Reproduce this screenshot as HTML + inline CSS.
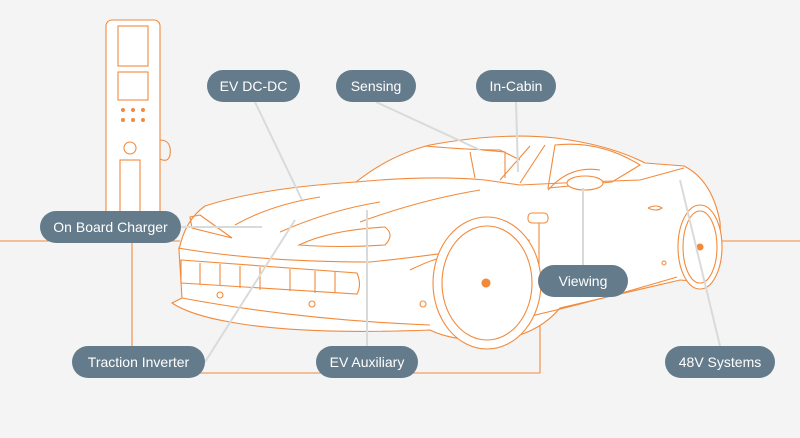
<!DOCTYPE html><html><head><style>body{margin:0;background:#f3f4f3;width:800px;height:438px;overflow:hidden;font-family:"Liberation Sans",sans-serif}
.p{position:absolute;background:#647b8b;color:#fff;border-radius:16px;height:32px;line-height:32px;text-align:center;font-size:14px}</style></head><body>
<svg width="800" height="438" style="position:absolute;left:0;top:0" fill="none" stroke="#f28a3c" stroke-width="1.1">
<path d="M0 241H180M720 241H800M132 243V373H540V297"/>
<rect x="106" y="20" width="54" height="220" rx="6" fill="#fff"/>
<rect x="118" y="26" width="30" height="40"/><rect x="118" y="72" width="30" height="28"/>
<g fill="#f28a3c" stroke="none"><circle cx="123" cy="110" r="2"/><circle cx="133" cy="110" r="2"/><circle cx="143" cy="110" r="2"/><circle cx="123" cy="120" r="2"/><circle cx="133" cy="120" r="2"/><circle cx="143" cy="120" r="2"/></g>
<circle cx="130" cy="148" r="6"/><rect x="120" y="160" width="20" height="78"/>
<path d="M160 140q12 0 10 15q-2 8-10 4"/>
<path d="M172 303 L182 298 L179 250 Q185 220 205 206 Q260 188 356 182 Q390 155 430 145 Q500 132 556 138 Q610 145 645 163 L684 166 Q712 180 720 222 Q722 260 705 282 L680 280 L560 308 Q535 338 487 341 Q450 340 430 330 Q300 335 230 322 Q190 315 172 303 Z" fill="#fff"/>
<path d="M356 182 Q430 175 485 180 L520 185 Q580 182 640 180 L684 168"/>
<path d="M425 146 Q470 150 500 150 L520 160 M530 146 L500 180 M545 145 L520 183 M555 145 Q600 140 640 165 L612 182 L548 188 Z"/>
<path d="M548 190 Q570 165 600 170"/><ellipse cx="585" cy="183" rx="18" ry="7" fill="#fff"/>
<path d="M470 152 L475 178 M482 150 L505 152 L505 178"/>
<path d="M527 317 Q600 300 677 277"/>
<path d="M190 217 L200 215 L232 238 L192 228 Z M299 245 Q330 230 385 227 Q395 235 385 245 Q340 248 299 245 Z"/>
<path d="M181 260 L357 273 Q362 285 357 294 L181 283 Z M200 263V285M220 264V286M240 266V288M260 267V290M290 269V291M315 271V293M335 272V293"/>
<path d="M182 298 Q300 320 430 325 M178 248 Q260 262 370 262 Q440 255 530 240 M235 225 Q270 205 320 197 M280 232 Q330 210 380 202 M360 222 Q420 200 480 190"/>
<path d="M410 270 Q440 255 460 255 Q430 280 440 300"/>
<rect x="528" y="213" width="20" height="10" rx="4"/><path d="M539 223 V300"/>
<circle cx="220" cy="295" r="3"/><circle cx="312" cy="304" r="3"/><circle cx="423" cy="304" r="3"/><circle cx="664" cy="263" r="2"/>
<path d="M648 208 q8 -4 14 0 q-6 4 -14 0"/>
<ellipse cx="487" cy="283" rx="54" ry="66" fill="#fff"/>
<ellipse cx="487" cy="283" rx="45" ry="57" fill="#fff"/><circle cx="486" cy="283" r="4" fill="#f28a3c"/>
<ellipse cx="700" cy="247" rx="22" ry="42" fill="#fff"/><ellipse cx="700" cy="247" rx="17" ry="36"/><circle cx="700" cy="247" r="3" fill="#f28a3c"/>
</svg>
<svg width="800" height="438" style="position:absolute;left:0;top:0" stroke="#d9dbdb" stroke-width="2" fill="none">
<path d="M255 102L302 200M376 102L480 150M516 102L518 172M181 227H262M205 362L295 220M367 346V210M583 265V188M720 346L680 180"/>
</svg>
<div class="p" style="left:207px;top:70px;width:93px">EV DC-DC</div>
<div class="p" style="left:336px;top:70px;width:80px">Sensing</div>
<div class="p" style="left:476px;top:70px;width:80px">In-Cabin</div>
<div class="p" style="left:40px;top:211px;width:141px">On Board Charger</div>
<div class="p" style="left:72px;top:346px;width:133px">Traction Inverter</div>
<div class="p" style="left:316px;top:346px;width:102px">EV Auxiliary</div>
<div class="p" style="left:538px;top:265px;width:90px">Viewing</div>
<div class="p" style="left:665px;top:346px;width:110px">48V Systems</div>
</body></html>
